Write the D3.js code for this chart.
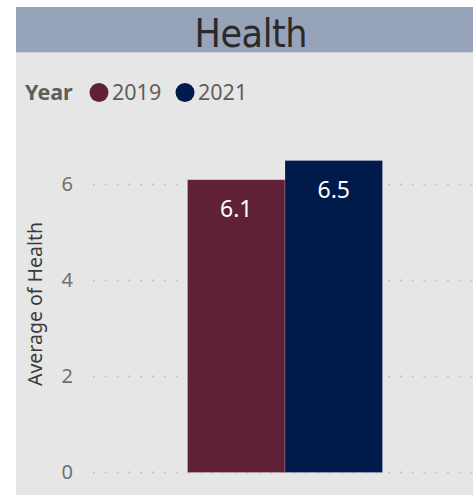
<!DOCTYPE html>
<html>
<head>
<meta charset="utf-8">
<script src="https://cdn.jsdelivr.net/npm/d3@7"></script>
<style>
  html, body { margin: 0; padding: 0; background: #ffffff; }
  svg { display: block; }
</style>
</head>
<body>
<svg id="chart" width="473" height="495"></svg>
<script>
// Chart data
const title = "Health";
const categories = ["Health"];
const years = ["2019", "2021"];
const values = [6.1, 6.5];
const yTicks = [0, 2, 4, 6];
const yAxisTitle = "Average of Health";
const legendTitle = "Year";
const colors = ["#602136", "#001a4b"];

const svg = d3.select("#chart");
const W = 473, H = 495;
const font = "'Noto Sans', 'Open Sans', sans-serif";

// Card background and header band
svg.append("rect").attr("x", 16).attr("y", 7).attr("width", W - 16).attr("height", 45)
  .attr("fill", "#97a3b8");
svg.append("rect").attr("x", 16).attr("y", 52).attr("width", W - 16).attr("height", 1.5)
  .attr("fill", "#c9ced8");
svg.append("rect").attr("x", 16).attr("y", 53.5).attr("width", W - 16).attr("height", H - 53.5)
  .attr("fill", "#e6e6e6");

svg.append("text")
  .attr("x", 251).attr("y", 46.5)
  .attr("text-anchor", "middle")
  .attr("font-family", "'DejaVu Sans Condensed', 'DejaVu Sans', sans-serif")
  .attr("font-size", 39)
  .attr("textLength", 113)
  .attr("fill", "#2b2a29")
  .text(title);

// Legend
const legend = svg.append("g").attr("font-family", font).attr("font-size", 21.5);
legend.append("text").attr("x", 25).attr("y", 100)
  .attr("font-weight", "bold").attr("fill", "#605e5c").text(legendTitle);
const legendX = [99, 185];
years.forEach((yr, i) => {
  legend.append("circle").attr("cx", legendX[i]).attr("cy", 92.5).attr("r", 9.5)
    .attr("fill", colors[i]);
  legend.append("text").attr("x", legendX[i] + 13).attr("y", 100)
    .attr("fill", "#605e5c").text(yr);
});

// Scales
const plotLeft = 93, plotRight = 477;
const y = d3.scaleLinear().domain([0, 6]).range([472.5, 184.5]);
const x0 = d3.scaleBand().domain(categories).range([plotLeft, plotRight])
  .paddingInner(0).paddingOuter(0.4846);
const x1 = d3.scaleBand().domain(years).range([0, x0.bandwidth()]).padding(0);

// Dotted gridlines
svg.append("g").selectAll("line").data(yTicks).join("line")
  .attr("x1", plotLeft).attr("x2", W)
  .attr("y1", d => y(d)).attr("y2", d => y(d))
  .attr("stroke", "#c4c4c4").attr("stroke-width", 2)
  .attr("stroke-dasharray", "2,9.8");

// Y axis tick labels
const yAxis = d3.axisLeft(y).tickValues(yTicks).tickSize(0).tickPadding(0).tickFormat(d3.format("d"));
const yg = svg.append("g").attr("transform", "translate(73,0)").call(yAxis);
yg.select(".domain").remove();
yg.selectAll("text")
  .attr("font-family", font).attr("font-size", 20).attr("fill", "#707070");

// Y axis title
svg.append("text")
  .attr("transform", "translate(42,304) rotate(-90)")
  .attr("text-anchor", "middle")
  .attr("font-family", font).attr("font-size", 19.5)
  .attr("fill", "#3a3a3a")
  .text(yAxisTitle);

// Bars
const barData = years.map((yr, i) => ({ cat: categories[0], year: yr, value: values[i], color: colors[i] }));
const bars = svg.append("g");
bars.selectAll("rect").data(barData).join("rect")
  .attr("x", d => x0(d.cat) + x1(d.year))
  .attr("y", d => y(d.value))
  .attr("width", x1.bandwidth())
  .attr("height", d => y(0) - y(d.value))
  .attr("fill", d => d.color)
  .attr("stroke", "rgba(255,255,255,0.25)")
  .attr("stroke-width", 0.8);

// Value labels inside the bar tops
bars.selectAll("text").data(barData).join("text")
  .attr("x", d => x0(d.cat) + x1(d.year) + x1.bandwidth() / 2)
  .attr("y", d => y(d.value) + 37)
  .attr("text-anchor", "middle")
  .attr("font-family", font).attr("font-size", 23)
  .attr("fill", "#ffffff")
  .text(d => d3.format(".1f")(d.value));
</script>
</body>
</html>
